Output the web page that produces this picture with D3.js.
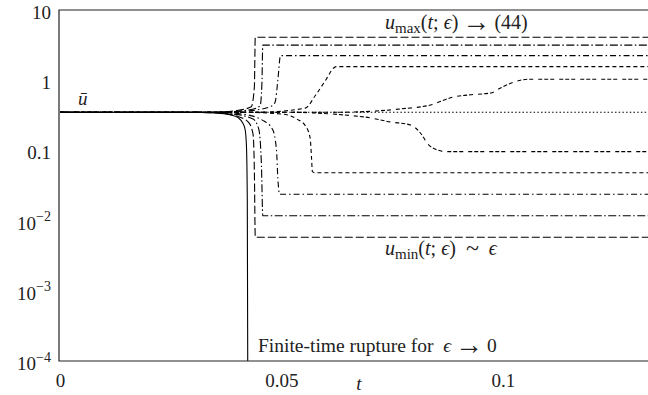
<!DOCTYPE html>
<html><head><meta charset="utf-8">
<script src="https://cdn.jsdelivr.net/npm/d3@7"></script>
<style>
body{margin:0;background:#fff;}
svg{display:block;font-family:"Liberation Serif","Times New Roman",serif;}
</style></head>
<body><svg id="c" width="648" height="395"></svg>
<script>
// ---- data ----
const uBar = 0.35;
const xTicks = [0, 0.05, 0.1];
const xTickLabels = ["0", "0.05", "0.1"];
const yTicks = [10, 1, 0.1, 0.01, 0.001, 0.0001];
const yTickBase = ["10", "1", "0.1", "10", "10", "10"];
const yTickExp = ["", "", "", "\u22122", "\u22123", "\u22124"];

// rupture (solid)
const tSolid = [0, 0.026, 0.032, 0.036, 0.0388, 0.0403, 0.0412, 0.0418, 0.0421, 0.0423, 0.0424];
const uSolid = [0.35, 0.35, 0.347, 0.338, 0.318, 0.29, 0.25, 0.2, 0.12, 0.02, 0.0001];
// long dash
const tLongMax = [0, 0.034, 0.04, 0.0432, 0.0439, 0.0441, 0.1328];
const uLongMax = [0.35, 0.35, 0.37, 0.42, 0.8, 4.1, 4.1];
const tLongMin = [0, 0.03, 0.036, 0.0405, 0.0426, 0.0436, 0.0439, 0.0441, 0.1328];
const uLongMin = [0.35, 0.35, 0.34, 0.30, 0.25, 0.17, 0.05, 0.0058, 0.0058];
// long dash-dot
const tDDLMax = [0, 0.035, 0.0425, 0.0452, 0.0456, 0.0458, 0.1328];
const uDDLMax = [0.35, 0.35, 0.375, 0.43, 0.9, 3.16, 3.16];
const tDDLMin = [0, 0.032, 0.039, 0.0436, 0.0449, 0.0455, 0.0458, 0.1328];
const uDDLMin = [0.35, 0.35, 0.33, 0.28, 0.2, 0.06, 0.0117, 0.0117];
// short dash-dot
const tDDSMax = [0, 0.037, 0.044, 0.0478, 0.0486, 0.0492, 0.0498, 0.1328];
const uDDSMax = [0.35, 0.35, 0.375, 0.43, 0.49, 1.0, 2.24, 2.24];
const tDDSMin = [0, 0.034, 0.041, 0.0457, 0.048, 0.0489, 0.0492, 0.0496, 0.1328];
const uDDSMin = [0.35, 0.35, 0.33, 0.27, 0.2, 0.1, 0.04, 0.0237, 0.0237];
// short dash
const tSDMax = [0, 0.045, 0.0554, 0.0577, 0.060, 0.0618, 0.0624, 0.1328];
const uSDMax = [0.35, 0.35, 0.40, 0.61, 1.0, 1.49, 1.56, 1.56];
const tSDMin = [0, 0.04, 0.05, 0.0535, 0.0555, 0.0565, 0.0568, 0.057, 0.0576, 0.1328];
const uSDMin = [0.35, 0.35, 0.33, 0.28, 0.22, 0.15, 0.08, 0.05, 0.048, 0.048];
// slow (grouped dash)
const tSlowMax = [0, 0.0633, 0.0769, 0.0837, 0.0889, 0.0921, 0.0973, 0.0995, 0.1025, 0.1057, 0.1328];
const uSlowMax = [0.35, 0.35, 0.39, 0.444, 0.577, 0.615, 0.658, 0.775, 0.94, 1.03, 1.03];
const tSlowMin = [0, 0.05, 0.0686, 0.0747, 0.0792, 0.0814, 0.0833, 0.0853, 0.0871, 0.1328];
const uSlowMin = [0.35, 0.35, 0.30, 0.254, 0.23, 0.177, 0.119, 0.101, 0.096, 0.096];
// dotted (uniform)
const tDot = [0, 0.1328];
const uDot = [uBar, uBar];

// ---- build ----
const svg = d3.select("#c");
const L = 60, R = 648, T = 10, B = 361;
const x = d3.scaleLinear().domain([0, 0.1328]).range([L, R]);
const y = d3.scaleLog().domain([1e-4, 10]).range([B, T]);

svg.append("clipPath").attr("id", "clip").append("rect")
  .attr("x", L - 1).attr("y", T).attr("width", R - L + 2).attr("height", B - T);

const zip = (ts, us) => ts.map((t, i) => [t, us[i]]);
const series = [
  {t: tDot, u: uDot, dash: "1.5,2.2"},
  {t: tSlowMax, u: uSlowMax, dash: "4,2,4,2,4,5"},
  {t: tSlowMin, u: uSlowMin, dash: "4,2,4,2,4,5"},
  {t: tSDMax, u: uSDMax, dash: "4,3"},
  {t: tSDMin, u: uSDMin, dash: "4,3"},
  {t: tDDSMax, u: uDDSMax, dash: "6,3,1.5,3"},
  {t: tDDSMin, u: uDDSMin, dash: "6,3,1.5,3"},
  {t: tDDLMax, u: uDDLMax, dash: "8,2.5,1.5,2.5"},
  {t: tDDLMin, u: uDDLMin, dash: "8,2.5,1.5,2.5"},
  {t: tLongMax, u: uLongMax, dash: "8,3"},
  {t: tLongMin, u: uLongMin, dash: "8,3"},
  {t: tSolid, u: uSolid, dash: null}
];

const line = d3.line().x(d => x(d[0])).y(d => y(d[1])).curve(d3.curveMonotoneX);
const g = svg.append("g").attr("clip-path", "url(#clip)");
series.forEach(s => {
  g.append("path").datum(zip(s.t, s.u))
    .attr("d", line).attr("fill", "none").attr("stroke", "#000")
    .attr("stroke-width", 1.1)
    .attr("stroke-dasharray", s.dash);
});

// frame
svg.append("path").attr("fill", "none").attr("stroke", "#222").attr("stroke-width", 1.2)
  .attr("d", `M${R+1},${T}H${L-1}V${B}H${R+1}`);

// axes (no tick marks)
const ax = svg.append("g").attr("transform", `translate(0,${B})`)
  .call(d3.axisBottom(x).tickValues(xTicks).tickSize(0).tickPadding(13)
    .tickFormat((d, i) => xTickLabels[i]));
ax.select(".domain").remove();
ax.selectAll("text").attr("font-family", "Liberation Serif").attr("font-size", 19).attr("fill", "#222");

const ay = svg.append("g").attr("transform", `translate(${L - 1},0)`)
  .call(d3.axisLeft(y).tickValues(yTicks).tickSize(0).tickPadding(8).tickFormat(() => ""));
ay.select(".domain").remove();
ay.selectAll(".tick text").each(function(d, i) {
  const t = d3.select(this).attr("font-family", "Liberation Serif").attr("font-size", 19)
    .attr("fill", "#222").attr("dy", "0.45em");
  t.append("tspan").text(yTickBase[i]);
  if (yTickExp[i]) t.append("tspan").attr("font-size", 14).attr("dy", "-0.6em").text(yTickExp[i]);
});

// axis title
svg.append("text").attr("x", 359).attr("y", 390)
  .attr("font-size", 19).attr("font-style", "italic").attr("text-anchor", "middle").attr("fill", "#222").text("t");

// annotations
svg.append("text").attr("x", 78).attr("y", 105).attr("font-size", 19)
  .attr("font-style", "italic").attr("fill", "#222").text("\u016B");

function arrow(sel) {
  sel.append("tspan").attr("font-size", 28).attr("dy", 2).text("\u2192");
  sel.append("tspan").attr("dy", -2).text("\u2009");
}

const a1 = svg.append("text").attr("x", 385).attr("y", 29).attr("font-size", 20).attr("fill", "#222");
a1.append("tspan").attr("font-style", "italic").text("u");
a1.append("tspan").attr("font-size", 15).attr("dy", 4).text("max");
a1.append("tspan").attr("dy", -4).text("(");
a1.append("tspan").attr("font-style", "italic").text("t");
a1.append("tspan").text("; ");
a1.append("tspan").attr("font-style", "italic").text("\u03F5");
a1.append("tspan").text(")\u2009");
arrow(a1);
a1.append("tspan").text("(44)");

const a2 = svg.append("text").attr("x", 385).attr("y", 255).attr("font-size", 20).attr("fill", "#222");
a2.append("tspan").attr("font-style", "italic").text("u");
a2.append("tspan").attr("font-size", 15).attr("dy", 4).text("min");
a2.append("tspan").attr("dy", -4).text("(");
a2.append("tspan").attr("font-style", "italic").text("t");
a2.append("tspan").text("; ");
a2.append("tspan").attr("font-style", "italic").text("\u03F5");
a2.append("tspan").text(")\u2002");
a2.append("tspan").attr("font-size", 24).attr("dy", 1).text("~");
a2.append("tspan").attr("dy", -1).text("\u2002");
a2.append("tspan").attr("font-style", "italic").text("\u03F5");

const a3 = svg.append("text").attr("x", 258).attr("y", 352).attr("font-size", 19.5).attr("fill", "#222");
a3.append("tspan").text("Finite-time rupture for\u2002");
a3.append("tspan").attr("font-style", "italic").text("\u03F5");
a3.append("tspan").text("\u2009");
arrow(a3);
a3.append("tspan").text("0");
</script></body></html>
